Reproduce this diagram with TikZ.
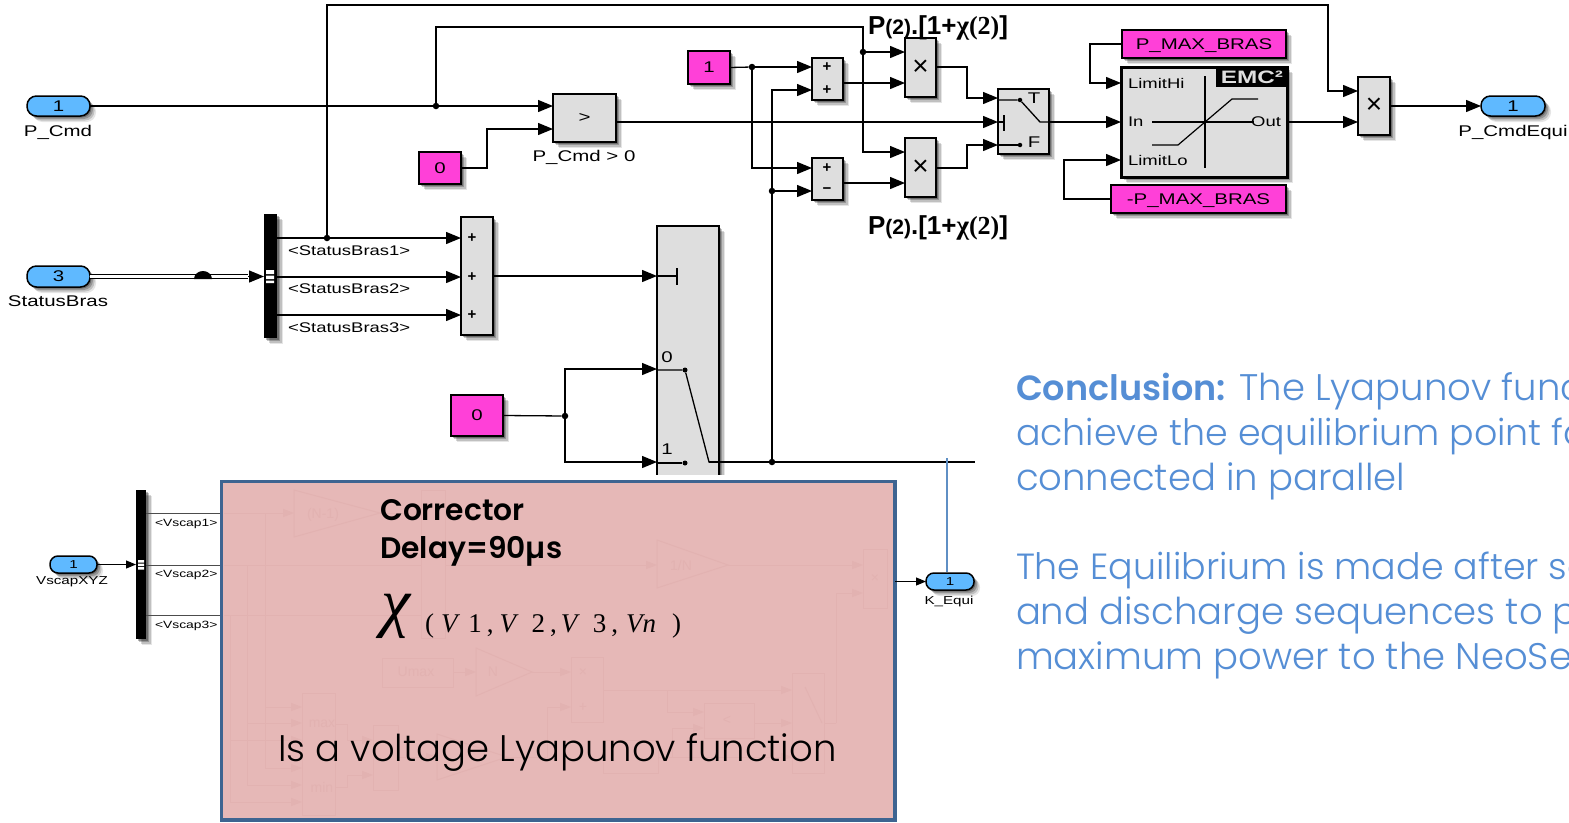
\documentclass[tikz,border=0pt]{standalone}
\usepackage{fontspec}
\usepackage{graphicx}
\usetikzlibrary{arrows.meta,shadows,calc}
\setmainfont{Liberation Sans}
\newfontfamily\gl{Poppins Light}
\newfontfamily\gb{Poppins SemiBold}
\newfontfamily\ser{Liberation Serif}
\definecolor{pinkc}{HTML}{FF40D8}
\definecolor{pillc}{HTML}{5FB9FF}
\definecolor{greyc}{HTML}{DEDEDE}
\definecolor{redc}{HTML}{E6B8B7}
\definecolor{ghostc}{HTML}{E2B2B1}
\definecolor{framec}{HTML}{3E6491}
\definecolor{bluec}{HTML}{558ED5}
\definecolor{bluel}{HTML}{5F8FC4}
\newcommand{\st}[2][15.5]{\scalebox{1.32}[1]{\fontsize{#1}{#1}\selectfont #2}}
\newcommand{\blk}[6]{\node[#6,minimum width={#4-#2},minimum height={#5-#3}] (#1) at ({(#2+#4)/2},{(#3+#5)/2})}
\tikzset{
  softshadow/.style={
    general shadow={fill=black,opacity=.10,shadow xshift=6pt,shadow yshift=-6pt},
    general shadow={fill=black,opacity=.16,shadow xshift=4.5pt,shadow yshift=-4.5pt},
    general shadow={fill=black,opacity=.22,shadow xshift=3pt,shadow yshift=-3pt},
    general shadow={fill=black,opacity=.28,shadow xshift=1.5pt,shadow yshift=-1.5pt}},
  base/.style={inner sep=0pt,outer sep=0pt,draw=black,line width=1.5pt,softshadow},
  gray block/.style={base,fill=greyc},
  const/.style={base,fill=pinkc},
  pill/.style={base,fill=pillc,rounded corners=9.5pt},
  bar/.style={inner sep=0pt,outer sep=0pt,fill=black,softshadow},
  wire/.style={line width=1.3pt,draw=black},
  conn/.style={wire,-{Triangle[length=15pt,width=12pt]}},
  sconn/.style={wire,line width=1pt,-{Triangle[length=10pt,width=8pt]}},
  jdot/.style={circle,fill=black,inner sep=0pt,minimum size=6.5pt},
  lab/.style={inner sep=0pt,outer sep=0pt,text=black},
  lw/.style={lab,anchor=west},
  ghost/.style={draw=ghostc,line width=1pt},
  gconn/.style={ghost,-{Triangle[length=11pt,width=8pt]}},
  gtxt/.style={inner sep=0pt,text=ghostc},
  concl/.style={inner sep=0pt,outer sep=0pt,anchor=base west,text=bluec},
}
\begin{document}
\begin{tikzpicture}[x=1pt,y=-1pt]
\useasboundingbox (0,0) rectangle (1569,822);
\fill[white] (0,0) rectangle (1569,822);
\begin{scope}
\clip (0,0) rectangle (1569,822);
% ---------- blocks
\blk{inA}{27}{96}{90}{116}{pill}{\st{1}};
\node[lab] (inAl) at (58,132) {\st{P\_Cmd}};
\blk{inB}{27}{266}{90}{287}{pill}{\st{3}};
\node[lab] (inBl) at (58,301) {\st{StatusBras}};
\blk{cmp}{553}{94}{616}{142}{gray block}{\st{>}};
\node[lab] (cmpl) at (584,157) {\st{P\_Cmd > 0}};
\blk{czero}{419}{152}{461}{184}{const}{\st{0}};
\blk{cone}{688}{51}{730}{84}{const}{\st{1}};
\blk{sumA}{812}{58}{843}{100}{gray block}{};
\blk{sumB}{812}{158}{843}{200}{gray block}{};
\blk{mulA}{905}{38}{936}{97}{gray block}{\fontsize{28}{28}\selectfont ×};
\blk{mulB}{905}{138}{936}{197}{gray block}{\fontsize{28}{28}\selectfont ×};
\blk{swA}{998}{89}{1049}{154}{gray block}{};
\blk{sat}{1121}{67}{1287}{177}{base,fill=greyc,line width=3pt}{};
\blk{emc}{1216}{66}{1288}{87}{inner sep=0pt,outer sep=0pt,fill=black}{\raisebox{-1pt}[\height][\depth]{\scalebox{1.35}[1]{\fontsize{18}{18}\selectfont\bfseries\textcolor{greyc}{EMC²}}}};
\blk{pmax}{1122}{30}{1286}{58}{const}{\raisebox{-2pt}[\height][\depth]{\st{P\_MAX\_BRAS}}};
\blk{nmax}{1111}{185}{1286}{213}{const}{\raisebox{-2pt}[\height][\depth]{\st{-P\_MAX\_BRAS}}};
\blk{mulC}{1358}{77}{1390}{135}{gray block}{\fontsize{28}{28}\selectfont ×};
\blk{outA}{1481}{96}{1545}{116}{pill}{\st{1}};
\node[lab] (outAl) at (1513,132) {\st{P\_CmdEqui}};
\blk{dmx}{264}{214}{277}{338}{bar}{};
\blk{sumC}{461}{217}{493}{335}{gray block}{};
\blk{czeroB}{451}{395}{503}{436}{const}{\st{0}};
\begin{scope}
\clip (640,220) rectangle (740,474);
\blk{swB}{657}{226}{719}{560}{gray block}{};
\end{scope}
% plus signs
\foreach \n/\x/\y/\t in {pa/827/67/+,pb/827/90/+,pc/827/168/+,pd/827/191/−,pe/472/238/+,pf/472/277/+,pg/472/315/+}
  \node[lab] (\n) at (\x,\y) {\fontsize{15}{15}\selectfont\bfseries \t};
% ---------- named junctions
\foreach \n/\x/\y in {ja/436/106,jb/327/238,jc/863/52,jd/752/67,je/772/191,jf/772/462,jg/565/416}
  \node[jdot] (\n) at (\x,\y) {};
\coordinate (kend) at (975,462);
% ---------- wires
\draw[wire] (inA.east) -- (ja);
\draw[conn] (ja) -- (cmp.west |- 0,106);
\draw[wire] (ja) |- (jc |- 0,27) -- (jc);
\draw[conn] (jc) -- (mulA.west |- 0,52);
\draw[conn] (jc) |- (mulB.west |- 0,152);
\draw[conn] (jb) |- (1328,5) |- (mulC.west |- 0,91);
\draw[conn] (czero.east) -| (487,129) -- (cmp.west |- 0,129);
\draw[conn] (cmp.east |- 0,122) -- (swA.west |- 0,122);
\draw[wire] (cone.east) -- (jd);
\draw[conn] (jd) -- (sumA.west |- 0,67);
\draw[conn] (jd) |- (sumB.west |- 0,168);
\draw[conn] (jf) |- (sumA.west |- 0,90);
\draw[conn] (je) -- (sumB.west |- 0,191);
\draw[conn] (sumA.east |- 0,83) -- (mulA.west |- 0,83);
\draw[conn] (sumB.east |- 0,183) -- (mulB.west |- 0,183);
\draw[conn] (mulA.east |- 0,67) -| (967,98) -- (swA.west |- 0,98);
\draw[conn] (mulB.east |- 0,168) -| (967,145) -- (swA.west |- 0,145);
\draw[conn] (swA.east |- 0,122) -- (sat.west |- 0,122);
\draw[conn] (pmax.west) -| (1090,83) -- (sat.west |- 0,83);
\draw[conn] (nmax.west) -| (1064,160) -- (sat.west |- 0,160);
\draw[conn] (sat.east |- 0,122) -- (mulC.west |- 0,122);
\draw[conn] (mulC.east |- 0,106) -- (outA.west);
% status bus
\coordinate (busend) at (248,276.5);
\draw[line width=1.3pt,double=white,double distance=2.4pt] (inB.east) -- (busend);
\fill[black] (194,279) arc[start angle=180,end angle=360,x radius=9,y radius=8] -- cycle;
\draw[conn] (busend) -- (dmx.west |- 0,276.5);
\draw[conn] (dmx.east |- 0,238) -- (sumC.west |- 0,238);
\draw[conn] (dmx.east |- 0,277) -- (sumC.west |- 0,277);
\draw[conn] (dmx.east |- 0,315) -- (sumC.west |- 0,315);
\fill[white] (266,270) rectangle (274,274) (266,275.5) rectangle (274,279) (266,280.5) rectangle (274,283);
\node[lw] (la) at (288,251) {\st[14]{<StatusBras1>}};
\node[lw] (lb) at (288,289) {\st[14]{<StatusBras2>}};
\node[lw] (lc) at (288,328) {\st[14]{<StatusBras3>}};
\draw[conn] (sumC.east |- 0,276) -- (swB.west |- 0,276);
\draw[wire] (czeroB.east) -- (jg);
\draw[conn] (jg) |- (swB.west |- 0,369);
\draw[conn] (jg) |- (swB.west |- 0,462);
\draw[wire] (709,462) -- (jf);
\draw[wire] (jf) -- (kend);
% switch A internals
\node[jdot,minimum size=4.5pt] (ta) at (1020,100) {};
\node[jdot,minimum size=4.5pt] (tb) at (1020,145) {};
\coordinate (tc) at (1040,122);
\draw[wire] (swA.west |- 0,100) -- (ta) -- (tc) -- (swA.east |- tc);
\draw[wire] (swA.west |- 0,145) -- (tb);
\draw[wire] (swA.west |- 0,122) -- (1004,122);
\draw[line width=1.8pt] (1004,115) -- (1004,131);
\node[lab] (tt) at (1034,98) {\st{T}};
\node[lab] (tf) at (1034,142) {\st{F}};
% switch B internals
\draw[wire] (swB.west |- 0,276) -- (677,276);
\draw[line width=1.8pt] (677,268) -- (677,285);
\node[jdot,minimum size=5pt] (sa) at (685,370) {};
\node[jdot,minimum size=5pt] (sb) at (685,463) {};
\draw[wire] (swB.west |- 0,370) -- (sa) -- (709,462) -- (719,462);
\draw[wire] (swB.west |- 0,463) -- (sb);
\node[lab] (z0) at (667,357) {\st{0}};
\node[lab] (z1) at (667,449) {\st{1}};
% saturation internals
\draw[line width=1.2pt] (1205,76) -- (1205,168);
\draw[line width=1.2pt] (1152,122) -- (1254,122);
\draw[line width=1.2pt] (1152,145) -- (1178,145) -- (1232,99) -- (1258,99);
\node[lw] (hi) at (1128,83) {\st[14]{LimitHi}};
\node[lw] (in) at (1128,122) {\st[14]{In}};
\node[lw] (lo) at (1128,160) {\st[14]{LimitLo}};
\node[lab,anchor=east] (ou) at (1281,122) {\st[14]{Out}};
% formula labels
\foreach \n/\y in {fa/28,fb/228}
  \node[lab] (\n) at (938,\y) {\fontsize{26}{26}\selectfont\bfseries P{\fontsize{21}{21}\selectfont (2)}.[1+{\ser\fontsize{27}{27}\selectfont χ}{\ser (2)}]};
% ---------- lower left
\blk{inC}{50}{556}{97}{573}{pill,rounded corners=8pt}{\st[11.5]{1}};
\node[lab] (inCl) at (72,582) {\st[11.5]{VscapXYZ}};
\blk{dmxB}{136}{490}{146}{639}{bar}{};
\draw[sconn] (inC.east) -- (dmxB.west |- 0,564.5);
\fill[white] (138,560) rectangle (144,562.5) (138,563.5) rectangle (144,566) (138,567) rectangle (144,569.5);
\coordinate (rbA) at (220,513);
\coordinate (rbB) at (220,565);
\coordinate (rbC) at (220,615);
\draw[wire,line width=1pt,draw=black!70] (dmxB.east |- rbA) -- (rbA);
\draw[wire,line width=1pt,draw=black!70] (dmxB.east |- rbB) -- (rbB);
\draw[wire,line width=1pt,draw=black!70] (dmxB.east |- rbC) -- (rbC);
\node[lw] (va) at (155,524) {\st[10.5]{<Vscap1>}};
\node[lw] (vb) at (155,575) {\st[10.5]{<Vscap2>}};
\node[lw] (vc) at (155,626) {\st[10.5]{<Vscap3>}};
% ---------- red box
\blk{rbox}{221.5}{481.5}{895}{820}{inner sep=0pt,outer sep=0pt,draw=framec,fill=redc,line width=3.5pt}{};
\blk{outK}{926}{573}{974}{590}{pill,rounded corners=8pt}{\st[11.5]{1}};
\node[lab] (outKl) at (949,602) {\st[11.5]{K\_Equi}};
\draw[sconn] (rbox.east |- outK) -- (outK.west);
\coordinate (bt) at (947,458);
\draw[line width=2pt,draw=bluel] (bt) -- (947,572);
% ghost content
\draw[ghost] (294,490) -- (294,537) -- (380,513) -- cycle;
\draw[ghost] (657,540) -- (657,588) -- (728,565) -- cycle;
\draw[ghost] (476,648) -- (476,696) -- (532,672) -- cycle;
\draw[ghost] (437,734) -- (437,780) -- (507,757) -- cycle;
\draw[ghost] (302,693) rectangle (335,815);
\draw[ghost] (373,725) rectangle (398,790);
\draw[ghost] (421,490) rectangle (445,638);
\draw[ghost] (863,549) rectangle (887,608);
\draw[ghost] (792,673) rectangle (824,773);
\draw[ghost] (571,657) rectangle (603,722);
\draw[ghost] (382,658) rectangle (453,687);
\draw[ghost] (704,703) rectangle (754,738);
\draw[ghost] (603,740) rectangle (658,773);
\draw[gconn] (224,513) -- (294,513);
\draw[ghost] (224,565) -- (421,565);
\draw[ghost] (224,615) -- (421,615);
\draw[gconn] (380,513) -- (421,513);
\draw[gconn] (445,565) -- (657,565);
\draw[gconn] (728,565) -- (863,565);
\draw[gconn] (836,723) -- (836,593) -- (863,593);
\draw[ghost] (824,723) -- (836,723);
\draw[ghost] (265,513) -- (265,768);
\draw[ghost] (247,565) -- (247,785);
\draw[ghost] (230,615) -- (230,802);
\draw[gconn] (265,707) -- (302,707);
\draw[gconn] (265,768) -- (302,768);
\draw[gconn] (247,723) -- (302,723);
\draw[gconn] (247,785) -- (302,785);
\draw[gconn] (230,740) -- (302,740);
\draw[gconn] (230,802) -- (302,802);
\draw[gconn] (335,724) -- (347,724) -- (347,740) -- (373,740);
\draw[gconn] (335,787) -- (347,787) -- (347,775) -- (373,775);
\draw[gconn] (398,757) -- (437,757);
\draw[gconn] (453,672) -- (476,672);
\draw[gconn] (532,672) -- (571,672);
\draw[gconn] (507,757) -- (547,757) -- (547,707) -- (571,707);
\draw[gconn] (603,690) -- (792,690);
\draw[gconn] (667,690) -- (667,712) -- (704,712);
\draw[gconn] (658,757) -- (672,757) -- (672,728) -- (704,728);
\draw[gconn] (672,757) -- (792,757);
\draw[gconn] (754,723) -- (792,723);
\draw[ghost] (805,687) -- (822,723);
\foreach \n/\x/\y/\t in {ga/323/515/(N-1),gb/681/565/{1/N},gc/416/672/Umax,gd/493/672/N,ge/322/724/max,gf/322/787/min,gg/875/579/×,gh/583/673/×,gi/583/707/+,gj/727/720/<}
  \node[gtxt] (\n) at (\x,\y) {\fontsize{14}{14}\selectfont \t};
% ---------- red box text
\node[inner sep=0pt,anchor=base west] (ca) at (380,520) {\fontsize{29.7}{30}\selectfont\gb Corrector};
\node[inner sep=0pt,anchor=base west] (cb) at (380,558) {\fontsize{29.7}{30}\selectfont\gb Delay=90µs};
\node[inner sep=0pt,anchor=base west] (cc) at (381,624) {\fontsize{66}{66}\selectfont\ser\itshape χ};
\node[inner sep=0pt,anchor=base west] (cd) at (425,632) {\fontsize{27}{27}\selectfont\ser (\hspace{7pt}\textit{V}\hspace{8pt}1\hspace{5pt},\hspace{6pt}\textit{V}\hspace{13pt}2\hspace{5pt},\hspace{4pt}\textit{V}\hspace{13pt}3\hspace{5pt},\hspace{8pt}\textit{Vn}\hspace{16pt})};
\node[inner sep=0pt,anchor=base west] (ce) at (278,761) {\fontsize{37}{37}\selectfont\gl Is a voltage Lyapunov function};
% ---------- conclusion
\node[concl] (ta1) at (1016,400) {\fontsize{37}{37}\selectfont{\fontsize{35}{35}\selectfont\gb Conclusion:} \gl The Lyapunov func};
\node[concl] (ta2) at (1016,445) {\fontsize{36.4}{37}\selectfont\gl achieve the equilibrium point fo};
\node[concl] (ta3) at (1016,490) {\fontsize{37}{37}\selectfont\gl connected in parallel};
\node[concl] (ta4) at (1016,579) {\fontsize{36.4}{37}\selectfont\gl The Equilibrium is made after se};
\node[concl] (ta5) at (1016,624) {\fontsize{37}{37}\selectfont\gl and discharge sequences to p};
\node[concl] (ta6) at (1016,669) {\fontsize{37}{37}\selectfont\gl maximum power to the NeoSe};
\end{scope}
\end{tikzpicture}
\end{document}
